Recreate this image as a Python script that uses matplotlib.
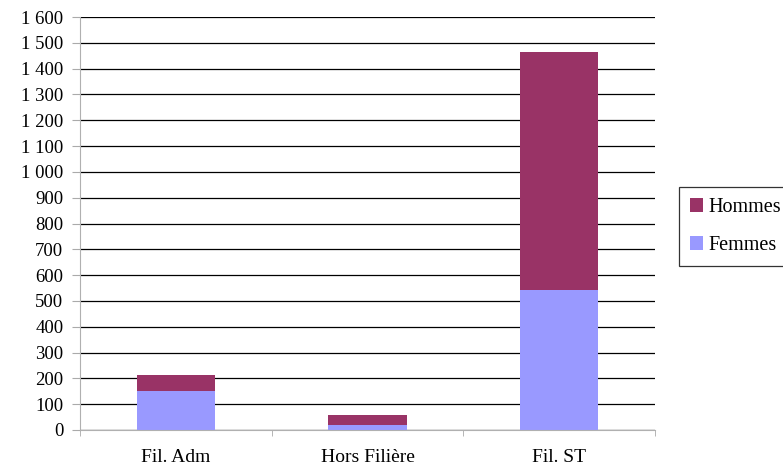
import matplotlib
matplotlib.use("Agg")
import matplotlib.pyplot as plt
import numpy as np
from matplotlib.ticker import FixedLocator, FuncFormatter

categories = ["Fil. Adm", "Hors Filière", "Fil. ST"]
femmes = [150, 18, 543]
hommes = [65, 42, 922]
yticks = list(range(0, 1601, 100))

plt.rcParams['font.family'] = ['Liberation Serif', 'DejaVu Serif']

fig = plt.figure(figsize=(7.83, 4.68), dpi=100)
ax = fig.add_axes([80/783, 38/468, 575/783, 413/468])

x = np.arange(len(categories))
w = 0.41
b1 = ax.bar(x, femmes, w, color="#9999FF", label="Femmes", zorder=3)
b2 = ax.bar(x, hommes, w, bottom=femmes, color="#993366", label="Hommes", zorder=3)

ax.set_xlim(-0.5, len(categories) - 0.5)
ax.set_ylim(0, 1600)
ax.set_yticks(yticks)
ax.yaxis.set_major_formatter(FuncFormatter(lambda v, p: f"{int(v):,}".replace(",", " ")))
ax.yaxis.grid(True, color="black", linewidth=0.9, zorder=0)
ax.set_axisbelow(True)

ax.set_xticks(x)
ax.set_xticklabels(categories)
ax.xaxis.set_minor_locator(FixedLocator([-0.5, 0.5, 1.5, 2.5]))
ax.tick_params(axis="x", which="major", length=0, pad=14, labelsize=14)
ax.tick_params(axis="x", which="minor", length=4.5, color="#aaaaaa")
ax.tick_params(axis="y", length=6, color="#aaaaaa", labelsize=13.5, pad=6)

for s in ["top", "right"]:
    ax.spines[s].set_visible(False)
ax.spines["left"].set_color("#b0b0b0")
ax.spines["bottom"].set_color("#b0b0b0")
ax.spines["left"].set_zorder(4)
ax.spines["bottom"].set_zorder(4)

leg = fig.legend(handles=[b2, b1], labels=["Hommes", "Femmes"],
                 loc="upper left", bbox_to_anchor=(679/783, 1 - 187/468),
                 frameon=True, fancybox=False, edgecolor="black",
                 fontsize=14.5, handlelength=0.65, handleheight=0.65,
                 handletextpad=0.25, labelspacing=0.95, borderpad=0.55,
                 borderaxespad=0)
leg.get_frame().set_linewidth(0.9)

fig.savefig("out.png", dpi=100)
